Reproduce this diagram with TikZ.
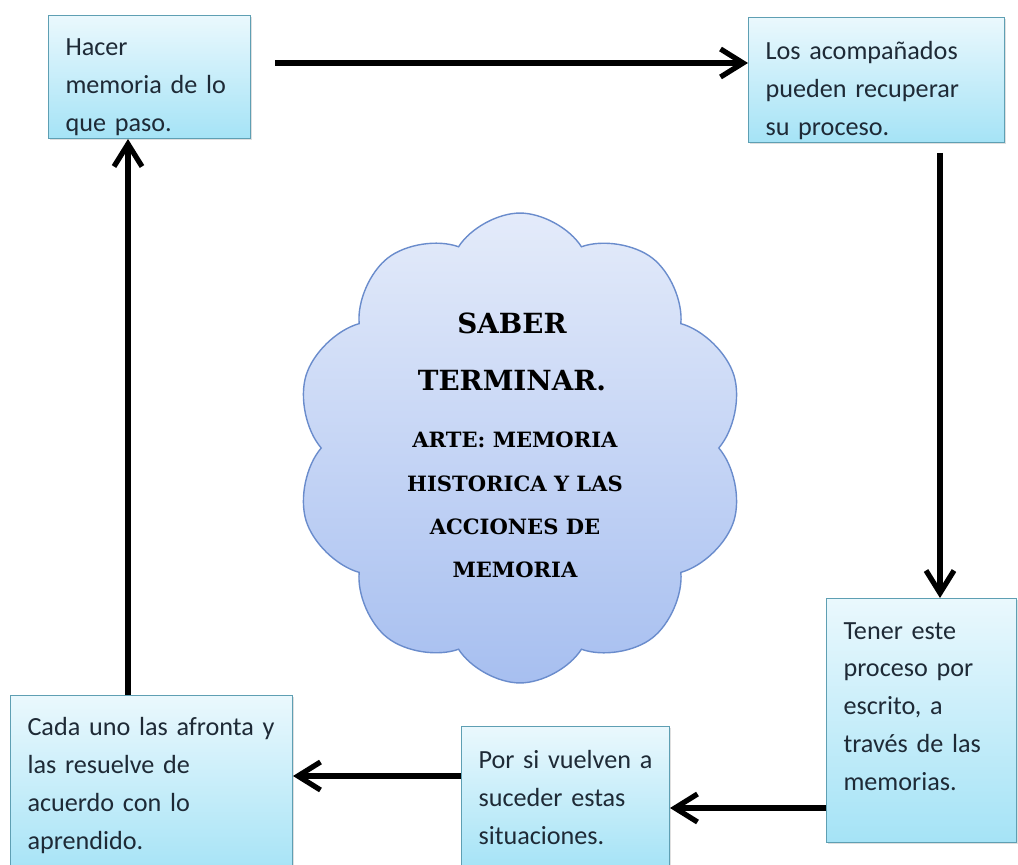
\documentclass[tikz,border=0pt]{standalone}
\usepackage{fontspec}
\usepackage{tikz}
\setmainfont{Carlito}[WordSpace=0.5]
\newfontfamily\nubefont{DejaVu Serif}
\usetikzlibrary{shapes.symbols, arrows.meta, shadows, positioning}

\definecolor{cajaborde}{HTML}{5E9FB3}
\definecolor{cajaarriba}{HTML}{EAF8FD}
\definecolor{cajaabajo}{HTML}{A5E3F6}
\definecolor{nubeborde}{HTML}{6A8CCC}
\definecolor{nubearriba}{HTML}{E4EBFA}
\definecolor{nubeabajo}{HTML}{A7BFF0}
\definecolor{textocaja}{HTML}{1E2A36}

\begin{document}
\begin{tikzpicture}[x=0.02cm, y=-0.02cm,
            caja/.style={rectangle, draw=cajaborde, line width=0.6pt, top color=cajaarriba, bottom color=cajaabajo, anchor=north west, align=left, inner xsep=0.34cm, text=textocaja, font=\fontsize{14.9}{21.6}\selectfont, drop shadow={opacity=0.25, shadow xshift=0.7pt, shadow yshift=-0.9pt}},
            nube/.style={cloud, cloud puffs=10, cloud puff arc=115, aspect=1, minimum width=9cm, minimum height=9.4cm, draw=nubeborde, line width=0.8pt, top color=nubearriba, bottom color=nubeabajo},
            flecha/.style={line width=3pt, -{Straight Barb[length=4.5mm, width=5.6mm]}}
        ]
            \useasboundingbox (0,0) rectangle (1018,865);

% Cloud
            \node[nube] (saber) at (520,448) {};
            \node[font=\nubefont\bfseries\fontsize{15.8}{32.4}\selectfont, align=center] (titulo) at (512,352) {SABER\\TERMINAR.};
            \node[font=\nubefont\bfseries\fontsize{12}{24.6}\selectfont, align=center] (arte) at (515,505) {ARTE: MEMORIA\\HISTORICA Y LAS\\ACCIONES DE\\MEMORIA};

% Boxes
            \node[caja, text width=3.36cm, minimum height=2.46cm] (hacer) at (48,15) {Hacer\\memoria de lo\\que paso.\\[-1.08cm]\mbox{}};
            \node[caja, text width=4.44cm, minimum height=2.5cm] (acomp) at (748,17) {Los acompañados\\pueden recuperar\\su proceso.\\[-1.08cm]\mbox{}};
            \node[caja, text width=3.12cm, minimum height=4.88cm] (tener) at (826,598) {Tener este\\proceso por\\escrito, a\\través de las\\memorias.\\[-0.2cm]\mbox{}};
            \node[caja, text width=3.48cm, minimum height=2.84cm] (porsi) at (461,726) {Por si vuelven a\\suceder estas\\situaciones.};
            \node[caja, text width=4.96cm, minimum height=3.6cm] (cada) at (10,695) {Cada uno las afronta y\\las resuelve de\\acuerdo con lo\\aprendido.};

% Arrows
            \coordinate (ini1) at (275,63);
            \coordinate (ini2) at (940,153);
            \coordinate (alto3) at (0,808);
            \coordinate (alto4) at (0,776);
            \coordinate (col5) at (128,0);
            \draw[flecha] (ini1) -- (ini1 -| acomp.west);
            \draw[flecha] (ini2) -- (ini2 |- tener.north);
            \draw[flecha] (tener.west |- alto3) -- (porsi.east |- alto3);
            \draw[flecha] (porsi.west |- alto4) -- (cada.east |- alto4);
            \draw[flecha] (cada.north -| col5) -- (hacer.south -| col5);

        \end{tikzpicture}
\end{document}
